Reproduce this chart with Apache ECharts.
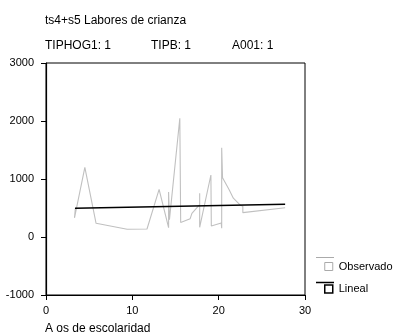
<!DOCTYPE html>
<html>
<head>
<meta charset="utf-8">
<script src="https://cdn.jsdelivr.net/npm/echarts@6/dist/echarts.min.js"></script>
<style>
  html, body { margin: 0; padding: 0; background: #fff; }
  #chart { width: 394px; height: 336px; }
</style>
</head>
<body>
<div id="chart"></div>
<script>
// observed values (años de escolaridad vs. labores de crianza)
const obsX = [3.4, 3.3, 4.5, 5.8, 9.4, 11.7, 13.1, 14.2, 14.2, 14.3, 15.5, 15.6, 16.7, 16.9, 17.8, 17.8, 17.8,
  19.1, 19.15, 20.3, 20.35, 20.35, 20.45, 21.2, 21.7, 22.5, 22.8, 22.8, 27.7];
const obsY = [495, 330, 1200, 236, 133, 138, 822, 160, 776, 300, 2047, 250, 316, 408, 560, 753, 167,
  1069, 190, 240, 150, 1540, 1020, 820, 670, 550, 530, 420, 505];
// fitted linear trend, end points
const linX = [3.36, 27.7];
const linY = [495, 565];
const legendNames = ["Observado", "Lineal"];
const yTicks = [-1000, 0, 1000, 2000, 3000];

const fontFamily = "'Liberation Sans', Arial, sans-serif";
const chart = echarts.init(document.getElementById("chart"));

const plainText = { fontSize: 12, fontWeight: "normal", color: "#000" };

const option = {
  animation: false,
  textStyle: { fontFamily },
  title: [
    { text: "ts4+s5 Labores de crianza", left: 40, top: 10, textStyle: plainText },
    { text: "TIPHOG1: 1", left: 40, top: 35, textStyle: plainText },
    { text: "TIPB: 1", left: 146, top: 35, textStyle: plainText },
    { text: "A001: 1", left: 227, top: 35, textStyle: plainText },
    { text: "A os de escolaridad", left: 40, top: 318, textStyle: plainText },
  ],
  grid: {
    left: 46,
    right: 89,
    top: 63,
    bottom: 41,
    show: true,
    borderColor: "#000",
    borderWidth: 1,
    containLabel: false,
  },
  legend: {
    orient: "vertical",
    left: 319,
    top: 256,
    itemWidth: 8,
    itemHeight: 8,
    itemGap: 11.5,
    icon: "rect",
    data: legendNames.map((n, i) => ({
      name: n,
      itemStyle: { color: "#fff", borderColor: i === 0 ? "#aaa" : "#000", borderWidth: i === 0 ? 1 : 1.5 },
    })),
    textStyle: { fontSize: 11, color: "#000", padding: [0, 0, 0, 1] },
  },
  xAxis: {
    type: "value",
    min: 0,
    max: 30,
    interval: 10,
    axisLine: { show: true, onZero: false, lineStyle: { color: "#000", width: 1.2 } },
    axisTick: { show: true, length: 5, lineStyle: { color: "#000" } },
    axisLabel: { color: "#000", fontSize: 11, margin: 10 },
    splitLine: { show: false },
  },
  yAxis: {
    type: "value",
    min: yTicks[0],
    max: yTicks[yTicks.length - 1],
    interval: 1000,
    axisLine: { show: true, onZero: false, lineStyle: { color: "#000", width: 1.2 } },
    axisTick: { show: true, length: 5, lineStyle: { color: "#000" } },
    axisLabel: { color: "#000", fontSize: 11, margin: 12, formatter: (v) => String(v) },
    splitLine: { show: false },
  },
  graphic: [
    { type: "line", shape: { x1: 316, y1: 257.5, x2: 334, y2: 257.5 }, style: { stroke: "#aaa", lineWidth: 1 } },
    { type: "line", shape: { x1: 316, y1: 282.5, x2: 334, y2: 282.5 }, style: { stroke: "#000", lineWidth: 1.5 } },
  ],
  series: [
    {
      name: legendNames[0],
      type: "line",
      showSymbol: false,
      lineStyle: { color: "#c0c0c0", width: 1.1 },
      itemStyle: { color: "#c0c0c0" },
      data: obsX.map((x, i) => [x, obsY[i]]),
    },
    {
      name: legendNames[1],
      type: "line",
      showSymbol: false,
      lineStyle: { color: "#000", width: 1.5 },
      itemStyle: { color: "#000" },
      data: linX.map((x, i) => [x, linY[i]]),
    },
  ],
};

chart.setOption(option);
</script>
</body>
</html>
